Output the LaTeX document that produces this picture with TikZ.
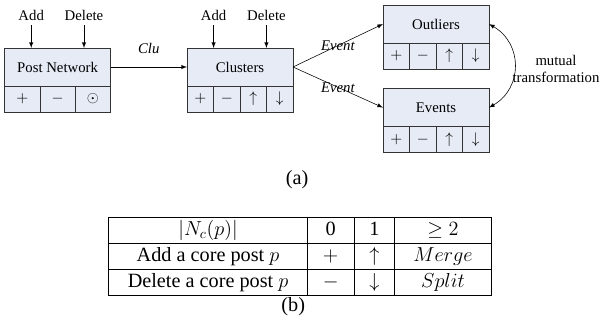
\documentclass[tikz,border=0pt]{standalone}
\usepackage{fontspec}
\setmainfont{Liberation Serif}
\usepackage{array}
\usetikzlibrary{arrows}
\definecolor{boxfill}{RGB}{230,235,246}
\newcolumntype{C}[1]{>{\centering\arraybackslash}p{#1}}
\tikzstyle{head} = [rectangle, 
minimum width=2.65cm, 
minimum height=0.95cm, 
text centered, outer sep=0pt,
draw=black!80, 
fill=boxfill]
\tikzstyle{cellthree} = [rectangle, minimum width=0.8833cm, minimum height=0.65cm, inner sep=0pt, outer sep=0pt, draw=black!80, fill=boxfill]
\tikzstyle{cellfour} = [rectangle, minimum width=0.6625cm, minimum height=0.65cm, inner sep=0pt, outer sep=0pt, draw=black!80, fill=boxfill]
\tikzstyle{arrow} = [->,>=latex]
\begin{document}
\begin{tikzpicture}[node distance=2cm, font=\fontsize{10.5}{12.6}\selectfont]
\useasboundingbox (0,0) rectangle (15.05,-8.075);

\node (post) [head] at (1.44,-1.675) {Post Network};
\node (clusters) [head, right of=post, xshift=2.56cm] {Clusters};
\node (outliers) [head, right of=clusters, xshift=2.9cm, yshift=1.075cm] {Outliers};
\node (events) [head, below of=outliers, yshift=-0.09cm] {Events};

% operation cells
\node (post1) [cellthree, anchor=north west] at (post.south west) {$+$};
\node (post2) [cellthree, anchor=west] at (post1.east) {$-$};
\node (post3) [cellthree, anchor=west] at (post2.east) {$\odot$};
\node (clu1) [cellfour, anchor=north west] at (clusters.south west) {$+$};
\node (clu2) [cellfour, anchor=west] at (clu1.east) {$-$};
\node (clu3) [cellfour, anchor=west] at (clu2.east) {$\uparrow$};
\node (clu4) [cellfour, anchor=west] at (clu3.east) {$\downarrow$};
\node (out1) [cellfour, anchor=north west] at (outliers.south west) {$+$};
\node (out2) [cellfour, anchor=west] at (out1.east) {$-$};
\node (out3) [cellfour, anchor=west] at (out2.east) {$\uparrow$};
\node (out4) [cellfour, anchor=west] at (out3.east) {$\downarrow$};
\node (ev1) [cellfour, anchor=north west] at (events.south west) {$+$};
\node (ev2) [cellfour, anchor=west] at (ev1.east) {$-$};
\node (ev3) [cellfour, anchor=west] at (ev2.east) {$\uparrow$};
\node (ev4) [cellfour, anchor=west] at (ev3.east) {$\downarrow$};

\node (addpost) [above of=post, xshift=-0.66cm, yshift=-0.7cm] {Add};
\node (delpost) [above of=post, xshift=0.66cm, yshift=-0.7cm] {Delete};
\node (addclu) [above of=clusters, xshift=-0.66cm, yshift=-0.7cm] {Add};
\node (delclu) [above of=clusters, xshift=0.66cm, yshift=-0.7cm] {Delete};
\node (mutual) [align=center, right of=outliers, xshift=1cm, yshift=-1.125cm] {mutual\\transformation};

\draw [arrow] (addpost) -- (addpost |- post.north);
\draw [arrow] (delpost) -- (delpost |- post.north);
\draw [arrow] (addclu) -- (addclu |- clusters.north);
\draw [arrow] (delclu) -- (delclu |- clusters.north);
\draw [arrow] (post) -- (clusters) node[midway, above=6pt] {\textit{Clu}};
\draw [arrow] (clusters.east) -- (outliers.west) node[midway] {\textit{Event}};
\draw [arrow] (clusters.east) -- (events.west) node[midway] {\textit{Event}};
\draw [<->, >=latex] (outliers.east) to[bend left=60, looseness=1.2] (events.east);

\node (capa) [font=\Large] at (7.43,-4.5) {(a)};

\node (table) [font=\Large, inner sep=0pt] at (7.5,-6.41) {%
\begin{tabular}{|C{4.53cm}|C{0.73cm}|C{0.58cm}|C{1.98cm}|}
\hline
$|N_c(p)|$ & 0 & 1 & $\geq 2$ \\ \hline
Add a core post $p$ & $+$ & $\uparrow$ & $Merge$ \\ \hline
Delete a core post $p$ & $-$ & $\downarrow$ & $Split$ \\ \hline
\end{tabular}};
\node (capb) [font=\Large] at (7.33,-7.675) {(b)};

\end{tikzpicture}
\end{document}
